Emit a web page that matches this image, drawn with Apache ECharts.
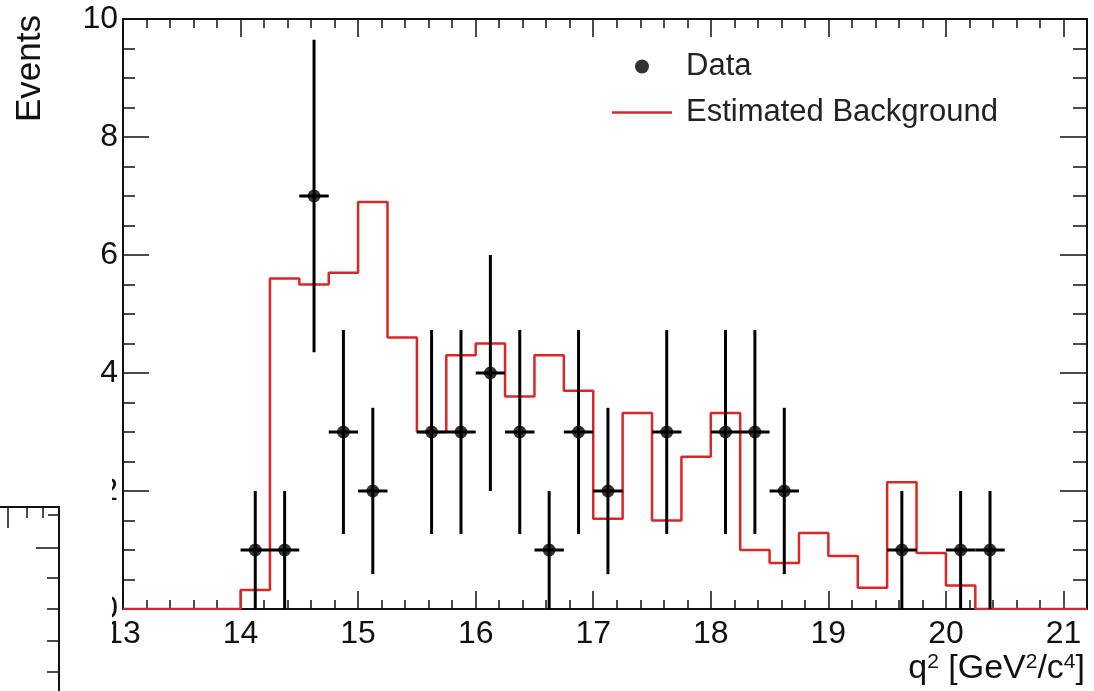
<!DOCTYPE html>
<html lang="en">
<head>
<meta charset="UTF-8">
<title>q2 distribution</title>
<script src="https://cdn.jsdelivr.net/npm/echarts@6/dist/echarts.min.js"></script>
<style>
html, body { margin: 0; padding: 0; background: #fff; }
#main { width: 1094px; height: 691px; }
</style>
</head>
<body>
<div id="main"></div>
<script>
// estimated background: left edge of each step and its height (bins of 0.25)
var bgEdges  = [13.0, 14.0, 14.25, 14.5, 14.75, 15.0, 15.25, 15.5, 15.75, 16.0, 16.25, 16.5, 16.75,
                17.0, 17.25, 17.5, 17.75, 18.0, 18.25, 18.5, 18.75, 19.0, 19.25, 19.5, 19.75, 20.0, 20.25, 21.2];
var bgValues = [0, 0.32, 5.6, 5.5, 5.7, 6.9, 4.6, 3.0, 4.3, 4.5, 3.6, 4.3, 3.7,
                1.53, 3.32, 1.5, 2.58, 3.32, 1.0, 0.78, 1.29, 0.9, 0.36, 2.15, 0.95, 0.4, 0, 0];

// data points (bin centres), counts and errors
var dataX   = [14.125, 14.375, 14.625, 14.875, 15.125, 15.625, 15.875, 16.125, 16.375, 16.625,
               16.875, 17.125, 17.625, 18.125, 18.375, 18.625, 19.625, 20.125, 20.375];
var dataY   = [1, 1, 7, 3, 2, 3, 3, 4, 3, 1, 3, 2, 3, 3, 3, 2, 1, 1, 1];
var dataErr = [1, 1, 2.65, 1.73, 1.41, 1.73, 1.73, 2, 1.73, 1, 1.73, 1.41, 1.73, 1.73, 1.73, 1.41, 1, 1, 1];
var xErr = 0.125;

var xTickLabels = ['13', '14', '15', '16', '17', '18', '19', '20', '21'];

var myChart = echarts.init(document.getElementById('main'));

var ink = '#111';
var red = '#dc2626';
var FONT = 'Liberation Sans';

function xAxisDef(pos, interval, len, withLine, withLabel) {
    return {
        type: 'value', gridIndex: 0, position: pos, min: 13, max: 21.2, interval: interval,
        axisLine: { show: withLine, lineStyle: { color: ink, width: 2 } },
        axisTick: { show: true, inside: true, length: len, lineStyle: { color: ink, width: 1.5 } },
        axisLabel: {
            show: withLabel, fontSize: 32, color: ink, margin: 9, fontFamily: FONT,
            formatter: function (v) {
                var r = Math.round(v);
                if (Math.abs(v - r) > 1e-6) return '';
                var s = String(r);
                return xTickLabels.indexOf(s) >= 0 ? s : '';
            }
        },
        splitLine: { show: false }
    };
}

function yAxisDef(pos, len, minorLen, withLabel) {
    return {
        type: 'value', gridIndex: 0, position: pos, min: 0, max: 10, interval: 2,
        axisLine: { show: true, lineStyle: { color: ink, width: 2 } },
        axisTick: { show: true, inside: true, length: len, lineStyle: { color: ink, width: 1.5 } },
        minorTick: { show: true, splitNumber: 4, length: minorLen, lineStyle: { color: ink, width: 1.5 } },
        axisLabel: { show: withLabel, fontSize: 32, color: ink, margin: 5, fontFamily: FONT },
        splitLine: { show: false },
        minorSplitLine: { show: false }
    };
}

// little pieces of the neighbouring plot frame in the lower-left corner
function seg(x1, y1, x2, y2, w) {
    return { type: 'line', z: 101, shape: { x1: x1, y1: y1, x2: x2, y2: y2 }, style: { stroke: ink, lineWidth: w || 1.5 } };
}

var option = {
    animation: false,
    backgroundColor: '#fff',
    textStyle: { fontFamily: FONT },
    grid: { left: 123, right: 7, top: 19, bottom: 82, containLabel: false },
    title: {
        text: 'q{s|2} [GeV{s|2}/c{s|4}]',
        right: 4, bottom: 0,
        textStyle: {
            fontSize: 34, color: ink, fontWeight: 'normal', fontFamily: FONT,
            rich: { s: { fontSize: 21, verticalAlign: 'top', color: ink, fontFamily: FONT } }
        }
    },
    legend: {
        orient: 'vertical', left: 612, top: 51, padding: 0,
        itemWidth: 60, itemHeight: 14, itemGap: 15,
        textStyle: { fontSize: 31, color: '#222', fontFamily: FONT, padding: [0, 0, 0, 9] },
        data: [
            { name: 'Data', icon: 'circle' },
            { name: 'Estimated Background', icon: 'path://M0,0 L60,0 L60,2.5 L0,2.5 Z' }
        ]
    },
    xAxis: [
        xAxisDef('bottom', 0.2, 9, true, true),
        xAxisDef('bottom', 1, 18, false, false),
        xAxisDef('top', 0.2, 9, true, false),
        xAxisDef('top', 1, 18, false, false)
    ],
    yAxis: [
        yAxisDef('left', 26, 12, true),
        yAxisDef('right', 27, 14, false)
    ],
    graphic: [
        {
            type: 'text', x: 13, y: 15, rotation: Math.PI / 2, z: 100,
            style: { text: 'Events', font: '35px "Liberation Sans"', fill: ink, align: 'right', verticalAlign: 'top' }
        },
        { type: 'rect', z: 100, shape: { x: 0, y: 465, width: 112, height: 226 }, style: { fill: '#fff' } },
        {
            type: 'polyline', z: 101,
            shape: { points: [[0, 507], [59, 507], [59, 691]] },
            style: { stroke: ink, lineWidth: 2, fill: null }
        },
        seg(8, 507, 8, 528), seg(27, 507, 27, 518), seg(43, 507, 43, 518), seg(48, 515, 59, 515),
        seg(36, 548, 59, 548), seg(47, 578, 59, 578), seg(47, 609, 59, 609),
        seg(47, 641, 59, 641), seg(47, 672, 59, 672)
    ],
    series: [
        {
            name: 'Estimated Background',
            type: 'line',
            step: 'end',
            xAxisIndex: 0, yAxisIndex: 0,
            data: bgEdges.map(function (e, i) { return [e, bgValues[i]]; }),
            symbol: 'none',
            lineStyle: { color: red, width: 2.5 },
            itemStyle: { color: red },
            z: 3
        },
        {
            name: 'errors',
            type: 'custom',
            xAxisIndex: 0, yAxisIndex: 0,
            data: dataX.map(function (x, i) { return [x, dataY[i], xErr, dataErr[i]]; }),
            encode: { x: 0, y: 1 },
            renderItem: function (params, api) {
                var x = api.value(0), y = api.value(1), ex = api.value(2), ey = api.value(3);
                var top = api.coord([x, y + ey]), bot = api.coord([x, y - ey]);
                var l = api.coord([x - ex, y]), r = api.coord([x + ex, y]);
                var st = { stroke: '#000', lineWidth: 3 };
                return {
                    type: 'group',
                    children: [
                        { type: 'line', shape: { x1: top[0], y1: top[1], x2: bot[0], y2: bot[1] }, style: st },
                        { type: 'line', shape: { x1: l[0], y1: l[1], x2: r[0], y2: r[1] }, style: st }
                    ]
                };
            },
            z: 4
        },
        {
            name: 'Data',
            type: 'scatter',
            xAxisIndex: 0, yAxisIndex: 0,
            data: dataX.map(function (x, i) { return [x, dataY[i]]; }),
            symbol: 'circle',
            symbolSize: 13,
            itemStyle: { color: '#000' },
            z: 5
        }
    ]
};

myChart.setOption(option);
</script>
</body>
</html>
